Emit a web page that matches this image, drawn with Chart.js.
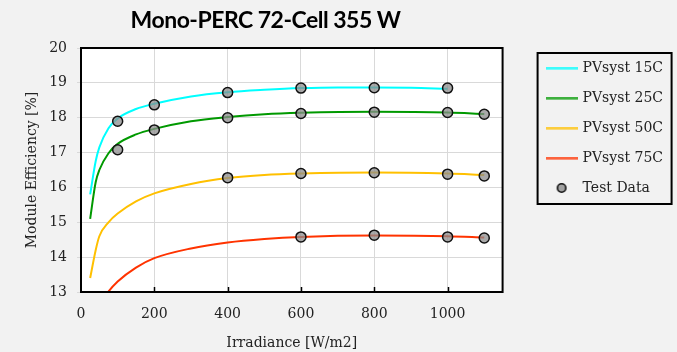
<!DOCTYPE html>
<html>
<head>
<meta charset="utf-8">
<script src="https://cdn.jsdelivr.net/npm/chart.js@4/dist/chart.umd.min.js"></script>
<style>
  body { margin: 0; background: #f2f2f2; }
  #wrap { position: relative; width: 677px; height: 352px; }
  #title { position: absolute; left: 0; top: 5px; width: 531px; text-align: center;
           font: bold 23px Lato, sans-serif; letter-spacing: -0.5px; color: #000; }
  canvas { position: absolute; left: 0; top: 0; }
</style>
</head>
<body>
<div id="wrap">
  <canvas id="chart" width="677" height="352"></canvas>
  <div id="title">Mono-PERC 72-Cell 355 W</div>
</div>
<script>
// model curves (irradiance W/m2 -> efficiency %)
const irr15 = [25, 40, 50, 75, 100, 150, 200, 300, 400, 500, 600, 700, 800, 900, 1000];
const eff15 = [15.8, 16.75, 17.15, 17.7, 17.98, 18.25, 18.4, 18.61, 18.73, 18.8, 18.85, 18.87, 18.87, 18.86, 18.83];

const irr25 = [25, 40, 50, 75, 100, 150, 200, 300, 400, 500, 600, 800, 1000, 1100];
const eff25 = [15.1, 16.15, 16.5, 16.98, 17.25, 17.52, 17.68, 17.9, 18.02, 18.1, 18.14, 18.17, 18.15, 18.11];

const irr50 = [25, 40, 50, 75, 100, 150, 200, 300, 400, 500, 600, 800, 1000, 1100];
const eff50 = [13.4, 14.2, 14.6, 15.0, 15.25, 15.6, 15.83, 16.1, 16.27, 16.36, 16.4, 16.43, 16.4, 16.36];

const irr75 = [60, 70, 100, 150, 200, 300, 400, 500, 600, 800, 1000, 1100];
const eff75 = [12.8, 12.95, 13.3, 13.7, 13.97, 14.25, 14.42, 14.52, 14.58, 14.62, 14.6, 14.56];

// measured points
const testIrr = [100, 200, 400, 600, 800, 1000,
                 100, 200, 400, 600, 800, 1000, 1100,
                 400, 600, 800, 1000, 1100,
                 600, 800, 1000, 1100];
const testEff = [17.9, 18.37, 18.72, 18.85, 18.86, 18.85,
                 17.08, 17.65, 18.0, 18.12, 18.16, 18.15, 18.1,
                 16.28, 16.4, 16.42, 16.38, 16.33,
                 14.58, 14.63, 14.58, 14.55];

const seriesNames = ['PVsyst 15C', 'PVsyst 25C', 'PVsyst 50C', 'PVsyst 75C', 'Test Data'];
const seriesColors = ['#00ffff', '#009900', '#ffc000', '#ff3300'];

const xTicks = [0, 200, 400, 600, 800, 1000];

const pts = (xs, ys) => xs.map((x, i) => ({ x: x, y: ys[i] }));

// little canvases used as legend symbols
function lineIcon(color) {
  const c = document.createElement('canvas');
  c.width = 32; c.height = 3;
  const g = c.getContext('2d');
  g.fillStyle = color;
  g.fillRect(0, 0.5, 32, 2);
  return c;
}
function dotIcon() {
  const c = document.createElement('canvas');
  c.width = 12; c.height = 12;
  const g = c.getContext('2d');
  g.beginPath();
  g.arc(6, 6, 4.2, 0, Math.PI * 2);
  g.fillStyle = 'rgba(140,140,140,0.8)';
  g.fill();
  g.lineWidth = 1.6;
  g.strokeStyle = '#111';
  g.stroke();
  return c;
}
const legendIcons = [...seriesColors.map(lineIcon), dotIcon()];

function curve(i, xs, ys) {
  return {
    label: seriesNames[i],
    data: pts(xs, ys),
    showLine: true,
    borderColor: seriesColors[i],
    backgroundColor: seriesColors[i],
    borderWidth: 2,
    pointRadius: 0,
    cubicInterpolationMode: 'monotone',
    order: 1
  };
}

const frame = {
  id: 'frame',
  afterLayout(chart) {
    // push the legend back to the right after the plot area is sized
    const lg = chart.legend;
    lg.left += 29;
    lg.right += 29;
    lg.top -= 3;
    lg.bottom -= 3;
  },
  beforeDraw(chart) {
    const a = chart.chartArea, ctx = chart.ctx;
    ctx.save();
    ctx.fillStyle = '#ffffff';
    ctx.fillRect(a.left, a.top, a.right - a.left, a.bottom - a.top);
    ctx.restore();
  },
  afterDraw(chart) {
    const a = chart.chartArea, ctx = chart.ctx;
    const xs = chart.scales.x;
    ctx.save();
    ctx.strokeStyle = '#000';
    ctx.lineWidth = 2;
    ctx.strokeRect(a.left, a.top, a.right - a.left, a.bottom - a.top);
    // inward tick marks on bottom axis
    ctx.lineWidth = 1.5;
    xTicks.slice(1).forEach(v => {
      const px = Math.round(xs.getPixelForValue(v)) + 0.5;
      ctx.beginPath();
      ctx.moveTo(px, a.bottom);
      ctx.lineTo(px, a.bottom - 5);
      ctx.stroke();
    });
    // legend box
    const lg = chart.legend;
    if (lg && lg.legendHitBoxes.length) {
      const hb = lg.legendHitBoxes;
      const l = Math.min(...hb.map(h => h.left)) - 10;
      const t = Math.min(...hb.map(h => h.top)) - 8;
      const b = Math.max(...hb.map(h => h.top + h.height)) + 9;
      ctx.lineWidth = 2;
      ctx.strokeRect(l, t, 134, b - t);
    }
    ctx.restore();
  }
};

new Chart(document.getElementById('chart'), {
  type: 'scatter',
  data: {
    datasets: [
      curve(0, irr15, eff15),
      curve(1, irr25, eff25),
      curve(2, irr50, eff50),
      curve(3, irr75, eff75),
      {
        label: seriesNames[4],
        data: pts(testIrr, testEff),
        pointRadius: 5,
        pointHoverRadius: 5,
        pointStyle: 'circle',
        backgroundColor: 'rgba(140,140,140,0.75)',
        borderColor: '#111',
        borderWidth: 1.5,
        order: 0
      }
    ]
  },
  options: {
    responsive: false,
    animation: false,
    events: [],
    layout: { padding: { top: 48, right: 33, bottom: 0, left: 20 } },
    scales: {
      x: {
        type: 'linear',
        min: 0,
        max: 1150,
        afterBuildTicks: s => { s.ticks = xTicks.map(v => ({ value: v })); },
        afterFit: s => { s.height = 60; },
        grid: { color: '#d9d9d9', lineWidth: 1, drawTicks: false },
        border: { display: false },
        ticks: { padding: 14, color: '#222', font: { family: 'DejaVu Serif', size: 14 },
                 callback: v => String(v) },
        title: { display: true, text: 'Irradiance [W/m2]', color: '#222', padding: { top: 4, bottom: 0 },
                 font: { family: 'DejaVu Serif', size: 14 } }
      },
      y: {
        min: 13,
        max: 20,
        afterFit: s => { s.width = 61; },
        grid: { color: '#d9d9d9', lineWidth: 1, tickLength: 4 },
        border: { display: false },
        ticks: { stepSize: 1, padding: 10, color: '#222', font: { family: 'DejaVu Serif', size: 14 } },
        title: { display: true, text: 'Module Efficiency [%]', color: '#222', padding: { top: 4, bottom: 2 },
                 font: { family: 'DejaVu Serif', size: 14 } }
      }
    },
    plugins: {
      title: { display: false },
      tooltip: { enabled: false },
      legend: {
        position: 'right',
        align: 'start',
        labels: {
          usePointStyle: true,
          pointStyleWidth: 28,
          boxHeight: 8,
          padding: 16,
          color: '#222',
          font: { family: 'DejaVu Serif', size: 14 },
          generateLabels(chart) {
            const items = Chart.defaults.plugins.legend.labels.generateLabels(chart);
            items.forEach(it => { it.pointStyle = legendIcons[it.datasetIndex]; });
            return items;
          },
          sort: (a, b) => a.datasetIndex - b.datasetIndex
        }
      }
    }
  },
  plugins: [frame]
});
</script>
</body>
</html>
